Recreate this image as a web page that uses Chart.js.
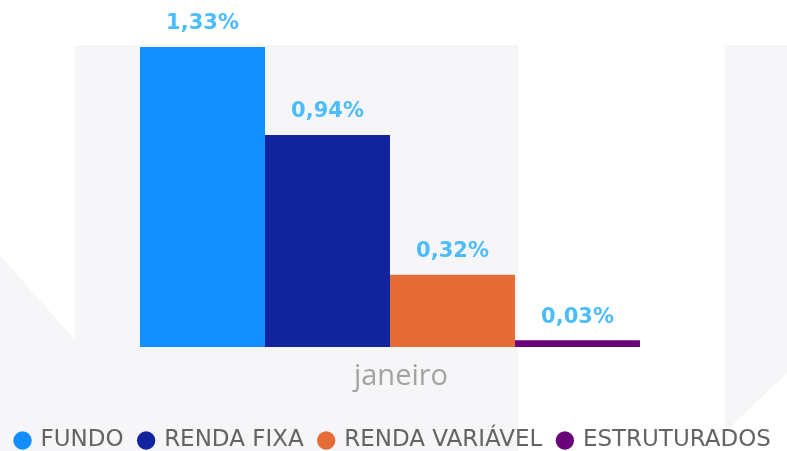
<!DOCTYPE html>
<html>
<head>
  <meta charset="utf-8">
  <title>Rentabilidade janeiro</title>
  <script src="https://cdn.jsdelivr.net/npm/chart.js@4.4.1/dist/chart.umd.min.js"></script>
  <style>
    html, body { margin: 0; padding: 0; background: #fff; }
    #wrap { width: 787px; height: 451px; }
  </style>
</head>
<body>
  <div id="wrap"><canvas id="myChart"></canvas></div>
  <script>
    const categories = ['janeiro'];
    const seriesNames = ['FUNDO', 'RENDA FIXA', 'RENDA VARIÁVEL', 'ESTRUTURADOS'];
    const seriesValues = [[1.33], [0.94], [0.32], [0.03]];
    const seriesColors = ['#138eff', '#12239e', '#e66c37', '#6b007b'];

    // faint watermark behind the chart
    const watermark = {
      id: 'watermark',
      beforeDraw(chart) {
        const ctx = chart.ctx;
        ctx.save();
        ctx.fillStyle = '#ffffff';
        ctx.fillRect(0, 0, chart.width, chart.height);
        ctx.fillStyle = '#f6f6f8';
        ctx.beginPath();
        ctx.moveTo(75, 45); ctx.lineTo(518, 45); ctx.lineTo(518, 451);
        ctx.lineTo(0, 451); ctx.lineTo(0, 255); ctx.lineTo(75, 340);
        ctx.closePath();
        ctx.fill();
        ctx.beginPath();
        ctx.moveTo(725, 45); ctx.lineTo(787, 45); ctx.lineTo(787, 373);
        ctx.lineTo(730, 427); ctx.lineTo(725, 451);
        ctx.closePath();
        ctx.fill();
        ctx.restore();
      }
    };

    // value labels above each bar
    const valueLabels = {
      id: 'valueLabels',
      afterDatasetsDraw(chart) {
        const ctx = chart.ctx;
        ctx.save();
        ctx.font = 'bold 21px "DejaVu Sans"';
        ctx.fillStyle = '#4cbcfc';
        ctx.textAlign = 'center';
        ctx.textBaseline = 'middle';
        chart.data.datasets.forEach((ds, i) => {
          chart.getDatasetMeta(i).data.forEach((bar, j) => {
            const txt = ds.data[j].toFixed(2).replace('.', ',') + '%';
            ctx.fillText(txt, bar.x, bar.y - 23);
          });
        });
        ctx.restore();
      }
    };

    const myChart = new Chart('myChart', {
      type: 'bar',
      data: {
        labels: categories,
        datasets: seriesNames.map((name, i) => ({
          label: name,
          data: seriesValues[i],
          backgroundColor: seriesColors[i],
          categoryPercentage: 0.641,
          barPercentage: 1.0
        }))
      },
      options: {
        responsive: true,
        maintainAspectRatio: false,
        animation: false,
        layout: { padding: { top: 47, left: 0, right: 0, bottom: -11 } },
        scales: {
          x: {
            grid: { display: false },
            border: { display: false },
            ticks: {
              color: '#a3a3a3',
              font: { family: '"Open Sans"', size: 29 },
              labelOffset: 11,
              padding: 4
            },
            afterFit(scale) { scale.height = 66; }
          },
          y: {
            position: 'right',
            min: 0,
            max: Math.max(...seriesValues.map(v => v[0])),
            display: true,
            grid: { display: false },
            border: { display: false },
            ticks: { display: false },
            afterFit(scale) { scale.width = 7; }
          }
        },
        plugins: {
          legend: {
            position: 'bottom',
            labels: {
              usePointStyle: true,
              pointStyle: 'circle',
              boxWidth: 13,
              boxHeight: 13,
              padding: 16,
              color: '#646464',
              font: { family: '"DejaVu Sans"', size: 23 }
            }
          },
          tooltip: { enabled: false }
        }
      },
      plugins: [watermark, valueLabels]
    });
  </script>
</body>
</html>
